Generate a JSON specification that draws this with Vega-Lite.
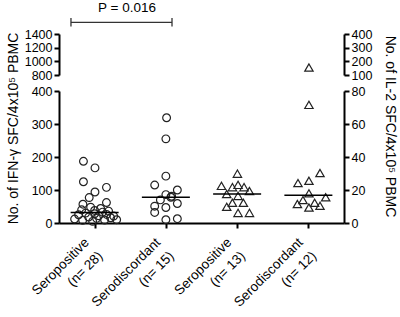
{
  "$schema": "https://vega.github.io/schema/vega-lite/v6.json",
  "background": "white",
  "padding": {"left": 5, "top": 0, "right": 14, "bottom": 5},
  "config": {
    "font": "Liberation Sans",
    "view": {"stroke": null},
    "axis": {
      "grid": false,
      "domainColor": "#000", "domainWidth": 2,
      "tickColor": "#000", "tickWidth": 2, "tickSize": 5,
      "labelColor": "#000", "labelFont": "Liberation Sans", "labelFontSize": 12.5, "labelPadding": 2, "labelOverlap": false,
      "titleFont": "Liberation Sans", "titleFontSize": 14, "titleFontWeight": "normal", "titleColor": "#000"
    }
  },
  "datasets": {
    "spots": [
      {"assay": "IFN", "cat": 1, "x": 0.843, "v": 187},
      {"assay": "IFN", "cat": 1, "x": 1.005, "v": 167},
      {"assay": "IFN", "cat": 1, "x": 0.843, "v": 125},
      {"assay": "IFN", "cat": 1, "x": 1.166, "v": 108},
      {"assay": "IFN", "cat": 1, "x": 1.005, "v": 94},
      {"assay": "IFN", "cat": 1, "x": 0.924, "v": 77},
      {"assay": "IFN", "cat": 1, "x": 1.166, "v": 62},
      {"assay": "IFN", "cat": 1, "x": 0.836, "v": 57},
      {"assay": "IFN", "cat": 1, "x": 0.719, "v": 12},
      {"assay": "IFN", "cat": 1, "x": 0.775, "v": 25},
      {"assay": "IFN", "cat": 1, "x": 0.818, "v": 40},
      {"assay": "IFN", "cat": 1, "x": 0.832, "v": 8},
      {"assay": "IFN", "cat": 1, "x": 0.874, "v": 30},
      {"assay": "IFN", "cat": 1, "x": 0.916, "v": 18},
      {"assay": "IFN", "cat": 1, "x": 0.944, "v": 48},
      {"assay": "IFN", "cat": 1, "x": 0.972, "v": 5},
      {"assay": "IFN", "cat": 1, "x": 1.0, "v": 28},
      {"assay": "IFN", "cat": 1, "x": 1.0, "v": 38},
      {"assay": "IFN", "cat": 1, "x": 1.028, "v": 14},
      {"assay": "IFN", "cat": 1, "x": 1.056, "v": 22},
      {"assay": "IFN", "cat": 1, "x": 1.084, "v": 44},
      {"assay": "IFN", "cat": 1, "x": 1.112, "v": 33},
      {"assay": "IFN", "cat": 1, "x": 1.14, "v": 9},
      {"assay": "IFN", "cat": 1, "x": 1.168, "v": 26},
      {"assay": "IFN", "cat": 1, "x": 1.196, "v": 36},
      {"assay": "IFN", "cat": 1, "x": 1.225, "v": 16},
      {"assay": "IFN", "cat": 1, "x": 1.267, "v": 21},
      {"assay": "IFN", "cat": 1, "x": 1.309, "v": 10},
      {"assay": "IFN", "cat": 2, "x": 2.01, "v": 319},
      {"assay": "IFN", "cat": 2, "x": 2.0, "v": 255},
      {"assay": "IFN", "cat": 2, "x": 2.0, "v": 142},
      {"assay": "IFN", "cat": 2, "x": 1.843, "v": 115},
      {"assay": "IFN", "cat": 2, "x": 2.161, "v": 100},
      {"assay": "IFN", "cat": 2, "x": 2.0, "v": 86},
      {"assay": "IFN", "cat": 2, "x": 2.081, "v": 81},
      {"assay": "IFN", "cat": 2, "x": 1.923, "v": 70},
      {"assay": "IFN", "cat": 2, "x": 2.161, "v": 59},
      {"assay": "IFN", "cat": 2, "x": 1.843, "v": 51},
      {"assay": "IFN", "cat": 2, "x": 2.0, "v": 47},
      {"assay": "IFN", "cat": 2, "x": 1.843, "v": 32},
      {"assay": "IFN", "cat": 2, "x": 2.0, "v": 10},
      {"assay": "IFN", "cat": 2, "x": 2.161, "v": 13},
      {"assay": "IFN", "cat": 2, "x": 2.07, "v": 78},
      {"assay": "IL2", "cat": 3, "x": 3.004, "v": 29.9},
      {"assay": "IL2", "cat": 3, "x": 2.78, "v": 22.5},
      {"assay": "IL2", "cat": 3, "x": 2.934, "v": 21.7},
      {"assay": "IL2", "cat": 3, "x": 3.013, "v": 23.1},
      {"assay": "IL2", "cat": 3, "x": 3.097, "v": 21.7},
      {"assay": "IL2", "cat": 3, "x": 3.173, "v": 19.4},
      {"assay": "IL2", "cat": 3, "x": 2.854, "v": 17.6},
      {"assay": "IL2", "cat": 3, "x": 3.013, "v": 16.4},
      {"assay": "IL2", "cat": 3, "x": 2.854, "v": 9.8},
      {"assay": "IL2", "cat": 3, "x": 2.934, "v": 12.3},
      {"assay": "IL2", "cat": 3, "x": 3.088, "v": 12.3},
      {"assay": "IL2", "cat": 3, "x": 3.013, "v": 6.1},
      {"assay": "IL2", "cat": 3, "x": 3.173, "v": 6.1},
      {"assay": "IL2", "cat": 4, "x": 4.008, "v": 155},
      {"assay": "IL2", "cat": 4, "x": 4.008, "v": 71.6},
      {"assay": "IL2", "cat": 4, "x": 4.163, "v": 30.3},
      {"assay": "IL2", "cat": 4, "x": 4.008, "v": 25.6},
      {"assay": "IL2", "cat": 4, "x": 3.854, "v": 24.2},
      {"assay": "IL2", "cat": 4, "x": 4.008, "v": 18},
      {"assay": "IL2", "cat": 4, "x": 4.243, "v": 15.6},
      {"assay": "IL2", "cat": 4, "x": 3.924, "v": 13.9},
      {"assay": "IL2", "cat": 4, "x": 4.088, "v": 12.3},
      {"assay": "IL2", "cat": 4, "x": 3.846, "v": 11.5},
      {"assay": "IL2", "cat": 4, "x": 4.163, "v": 10.4},
      {"assay": "IL2", "cat": 4, "x": 4.008, "v": 9.4}
    ],
    "pval": [{"label": "P = 0.016", "from": 0.668, "to": 2.086, "y": 1570, "lo": 1511, "hi": 1634, "lx": 1.454, "ly": 1781}]
  },
  "spacing": 16,
  "bounds": "flush",
  "vconcat": [
    {
      "width": 285,
      "height": 41,
      "resolve": {"scale": {"y": "independent"}},
      "layer": [
        {
          "data": {"name": "pval"},
          "mark": {"type": "rule", "color": "#333", "strokeWidth": 1.3},
          "encoding": {
            "x": {"field": "from", "type": "quantitative", "scale": {"domain": [0.5, 4.5], "nice": false, "zero": false}, "axis": null},
            "x2": {"field": "to"},
            "y": {"field": "y", "type": "quantitative", "scale": {"domain": [800, 1400], "nice": false, "zero": false}, "axis": {"title": null, "orient": "left", "values": [800, 1000, 1200, 1400], "format": "d"}}
          }
        },
        {
          "data": {"name": "pval"},
          "mark": {"type": "rule", "color": "#333", "strokeWidth": 1.3},
          "encoding": {
            "x": {"field": "from", "type": "quantitative", "scale": {"domain": [0.5, 4.5], "nice": false, "zero": false}, "axis": null},
            "y": {"field": "lo", "type": "quantitative", "scale": {"domain": [800, 1400], "nice": false, "zero": false}, "axis": null},
            "y2": {"field": "hi"}
          }
        },
        {
          "data": {"name": "pval"},
          "mark": {"type": "rule", "color": "#333", "strokeWidth": 1.3},
          "encoding": {
            "x": {"field": "to", "type": "quantitative", "scale": {"domain": [0.5, 4.5], "nice": false, "zero": false}, "axis": null},
            "y": {"field": "lo", "type": "quantitative", "scale": {"domain": [800, 1400], "nice": false, "zero": false}, "axis": null},
            "y2": {"field": "hi"}
          }
        },
        {
          "data": {"name": "pval"},
          "mark": {"type": "text", "fontSize": 13.5, "baseline": "middle", "align": "center", "color": "#000"},
          "encoding": {
            "x": {"field": "lx", "type": "quantitative", "scale": {"domain": [0.5, 4.5], "nice": false, "zero": false}, "axis": null},
            "y": {"field": "ly", "type": "quantitative", "scale": {"domain": [800, 1400], "nice": false, "zero": false}, "axis": null},
            "text": {"field": "label"}
          }
        },
        {
          "data": {"name": "spots"},
          "transform": [{"filter": "datum.assay == 'IL2' && datum.v > 100"}],
          "mark": {"type": "point", "shape": "triangle-up", "filled": false, "size": 70, "strokeWidth": 1.2, "color": "#222", "opacity": 1},
          "encoding": {
            "x": {"field": "x", "type": "quantitative", "scale": {"domain": [0.5, 4.5], "nice": false, "zero": false}, "axis": null},
            "y": {"field": "v", "type": "quantitative", "scale": {"domain": [100, 400], "nice": false, "zero": false}, "axis": {"title": null, "orient": "right", "values": [100, 200, 300, 400], "format": "d"}}
          }
        }
      ]
    },
    {
      "width": 285,
      "height": 132,
      "resolve": {"scale": {"y": "independent"}},
      "layer": [
        {
          "data": {"name": "spots"},
          "transform": [{"filter": "datum.assay == 'IFN'"}],
          "mark": {"type": "point", "shape": "circle", "filled": false, "size": 60, "strokeWidth": 1.2, "color": "#222", "opacity": 1},
          "encoding": {
            "x": {"field": "x", "type": "quantitative", "scale": {"domain": [0.5, 4.5], "nice": false, "zero": false},
              "axis": {"title": null, "values": [1, 2, 3, 4], "labelAngle": -45, "labelAlign": "right", "labelBaseline": "top", "labelFontSize": 13.5, "labelLineHeight": 19, "labelPadding": 7, "labelOffset": -13,
                "labelExpr": "datum.value == 1 ? ['Seropositive', '(n= 28)\u00a0\u00a0\u00a0\u00a0\u00a0'] : datum.value == 2 ? ['Serodiscordant', '(n= 15)\u00a0\u00a0\u00a0\u00a0\u00a0\u00a0\u00a0'] : datum.value == 3 ? ['Seropositive', '(n= 13)\u00a0\u00a0\u00a0\u00a0\u00a0'] : ['Serodiscordant', '(n= 12)\u00a0\u00a0\u00a0\u00a0\u00a0\u00a0\u00a0']"}},
            "y": {"field": "v", "type": "quantitative", "scale": {"domain": [0, 400], "nice": false, "zero": true},
              "axis": {"title": "No. of IFN-γ SFC/4x10⁵ PBMC", "orient": "left", "values": [0, 100, 200, 300, 400], "format": "d", "titleX": -46, "titleY": 37, "titleBaseline": "middle"}}
          }
        },
        {
          "data": {"name": "spots"},
          "transform": [{"filter": "datum.assay == 'IFN'"}],
          "mark": {"type": "tick", "orient": "horizontal", "size": 48, "thickness": 1.5, "color": "#000"},
          "encoding": {
            "x": {"field": "cat", "type": "quantitative", "scale": {"domain": [0.5, 4.5], "nice": false, "zero": false},
              "axis": {"title": null, "values": [1, 2, 3, 4], "labelAngle": -45, "labelAlign": "right", "labelBaseline": "top", "labelFontSize": 13.5, "labelLineHeight": 19, "labelPadding": 7, "labelOffset": -13,
                "labelExpr": "datum.value == 1 ? ['Seropositive', '(n= 28)\u00a0\u00a0\u00a0\u00a0\u00a0'] : datum.value == 2 ? ['Serodiscordant', '(n= 15)\u00a0\u00a0\u00a0\u00a0\u00a0\u00a0\u00a0'] : datum.value == 3 ? ['Seropositive', '(n= 13)\u00a0\u00a0\u00a0\u00a0\u00a0'] : ['Serodiscordant', '(n= 12)\u00a0\u00a0\u00a0\u00a0\u00a0\u00a0\u00a0']"}},
            "y": {"aggregate": "median", "field": "v", "type": "quantitative", "scale": {"domain": [0, 400], "nice": false, "zero": true}, "axis": null}
          }
        },
        {
          "data": {"name": "spots"},
          "transform": [{"filter": "datum.assay == 'IL2' && datum.v <= 80"}],
          "mark": {"type": "point", "shape": "triangle-up", "filled": false, "size": 70, "strokeWidth": 1.2, "color": "#222", "opacity": 1},
          "encoding": {
            "x": {"field": "x", "type": "quantitative", "scale": {"domain": [0.5, 4.5], "nice": false, "zero": false},
              "axis": {"title": null, "values": [1, 2, 3, 4], "labelAngle": -45, "labelAlign": "right", "labelBaseline": "top", "labelFontSize": 13.5, "labelLineHeight": 19, "labelPadding": 7, "labelOffset": -13,
                "labelExpr": "datum.value == 1 ? ['Seropositive', '(n= 28)\u00a0\u00a0\u00a0\u00a0\u00a0'] : datum.value == 2 ? ['Serodiscordant', '(n= 15)\u00a0\u00a0\u00a0\u00a0\u00a0\u00a0\u00a0'] : datum.value == 3 ? ['Seropositive', '(n= 13)\u00a0\u00a0\u00a0\u00a0\u00a0'] : ['Serodiscordant', '(n= 12)\u00a0\u00a0\u00a0\u00a0\u00a0\u00a0\u00a0']"}},
            "y": {"field": "v", "type": "quantitative", "scale": {"domain": [0, 80], "nice": false, "zero": true},
              "axis": {"title": "No. of IL-2 SFC/4x10⁵ PBMC", "orient": "right", "values": [0, 20, 40, 60, 80], "format": "d", "titleX": 45, "titleY": 35, "titleBaseline": "middle", "titleAngle": 90}}
          }
        },
        {
          "data": {"name": "spots"},
          "transform": [{"filter": "datum.assay == 'IL2'"}],
          "mark": {"type": "tick", "orient": "horizontal", "size": 48, "thickness": 1.5, "color": "#000"},
          "encoding": {
            "x": {"field": "cat", "type": "quantitative", "scale": {"domain": [0.5, 4.5], "nice": false, "zero": false},
              "axis": {"title": null, "values": [1, 2, 3, 4], "labelAngle": -45, "labelAlign": "right", "labelBaseline": "top", "labelFontSize": 13.5, "labelLineHeight": 19, "labelPadding": 7, "labelOffset": -13,
                "labelExpr": "datum.value == 1 ? ['Seropositive', '(n= 28)\u00a0\u00a0\u00a0\u00a0\u00a0'] : datum.value == 2 ? ['Serodiscordant', '(n= 15)\u00a0\u00a0\u00a0\u00a0\u00a0\u00a0\u00a0'] : datum.value == 3 ? ['Seropositive', '(n= 13)\u00a0\u00a0\u00a0\u00a0\u00a0'] : ['Serodiscordant', '(n= 12)\u00a0\u00a0\u00a0\u00a0\u00a0\u00a0\u00a0']"}},
            "y": {"aggregate": "median", "field": "v", "type": "quantitative", "scale": {"domain": [0, 80], "nice": false, "zero": true}, "axis": null}
          }
        }
      ]
    }
  ]
}
